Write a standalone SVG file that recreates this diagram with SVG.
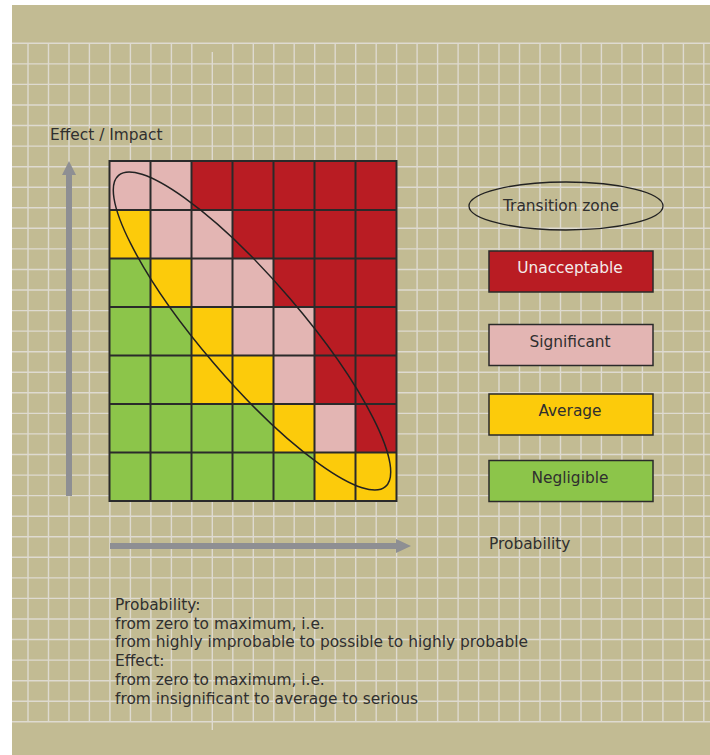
<svg xmlns="http://www.w3.org/2000/svg" width="710" height="755" viewBox="0 0 710 755">
<style>
.t{font-family:"DejaVu Sans","Liberation Sans",sans-serif;font-size:15.4px;fill:#2f2f2f}
.g{stroke:#dedad0;stroke-width:1.4}
.c{stroke:#2a2a2a;stroke-width:2}
.R{fill:#b91c23}.P{fill:#e3b5b3}.Y{fill:#fccb0b}.G{fill:#8cc54a}
.box{stroke:#2a2a2a;stroke-width:1.5}
.ax{fill:#8e8f93}
</style>
<rect width="710" height="755" fill="#ffffff"/>
<rect x="12" y="5" width="698" height="750" fill="#c2bb93"/>
<g id="grid">
<path class="g" d="M12 43.3H710M12 63.9H710M12 84.4H710M12 105H710M12 125.5H710M12 146.1H710M12 166.7H710M12 187.2H710M12 207.8H710M12 228.3H710M12 248.9H710M12 269.5H710M12 290H710M12 310.6H710M12 331.1H710M12 351.7H710M12 372.3H710M12 392.8H710M12 413.4H710M12 433.9H710M12 454.5H710M12 475.1H710M12 495.6H710M12 516.2H710M12 536.7H710M12 557.3H710M12 577.9H710M12 598.4H710M12 619H710M12 639.5H710M12 660.1H710M12 680.7H710M12 701.2H710M12 721.8H710"/>
<path class="g" d="M28 43.3V721.8M48.5 43.3V721.8M69 43.3V721.8M89.4 43.3V721.8M109.9 43.3V721.8M130.4 43.3V721.8M150.9 43.3V721.8M171.4 43.3V721.8M191.8 43.3V721.8M212.3 52V730M232.8 43.3V721.8M253.3 43.3V721.8M273.8 43.3V721.8M294.2 43.3V721.8M314.7 43.3V721.8M335.2 43.3V721.8M355.7 43.3V721.8M376.2 43.3V721.8M396.6 43.3V721.8M417.1 43.3V721.8M437.6 43.3V721.8M458.1 43.3V721.8M478.6 43.3V721.8M499 43.3V721.8M519.5 43.3V721.8M540 43.3V721.8M560.5 43.3V721.8M581 43.3V721.8M601.4 43.3V721.8M621.9 43.3V721.8M642.4 43.3V721.8M662.9 43.3V721.8M683.4 43.3V721.8M703.8 43.3V721.8"/>
</g>
<g id="matrix">
<rect class="P" x="109.5" y="161" width="41" height="49"/><rect class="P" x="150.5" y="161" width="41" height="49"/><rect class="R" x="191.5" y="161" width="41" height="49"/><rect class="R" x="232.5" y="161" width="41" height="49"/><rect class="R" x="273.5" y="161" width="41" height="49"/><rect class="R" x="314.5" y="161" width="41" height="49"/><rect class="R" x="355.5" y="161" width="41" height="49"/>
<rect class="Y" x="109.5" y="210" width="41" height="48.5"/><rect class="P" x="150.5" y="210" width="41" height="48.5"/><rect class="P" x="191.5" y="210" width="41" height="48.5"/><rect class="R" x="232.5" y="210" width="41" height="48.5"/><rect class="R" x="273.5" y="210" width="41" height="48.5"/><rect class="R" x="314.5" y="210" width="41" height="48.5"/><rect class="R" x="355.5" y="210" width="41" height="48.5"/>
<rect class="G" x="109.5" y="258.5" width="41" height="48.5"/><rect class="Y" x="150.5" y="258.5" width="41" height="48.5"/><rect class="P" x="191.5" y="258.5" width="41" height="48.5"/><rect class="P" x="232.5" y="258.5" width="41" height="48.5"/><rect class="R" x="273.5" y="258.5" width="41" height="48.5"/><rect class="R" x="314.5" y="258.5" width="41" height="48.5"/><rect class="R" x="355.5" y="258.5" width="41" height="48.5"/>
<rect class="G" x="109.5" y="307" width="41" height="48.5"/><rect class="G" x="150.5" y="307" width="41" height="48.5"/><rect class="Y" x="191.5" y="307" width="41" height="48.5"/><rect class="P" x="232.5" y="307" width="41" height="48.5"/><rect class="P" x="273.5" y="307" width="41" height="48.5"/><rect class="R" x="314.5" y="307" width="41" height="48.5"/><rect class="R" x="355.5" y="307" width="41" height="48.5"/>
<rect class="G" x="109.5" y="355.5" width="41" height="48.5"/><rect class="G" x="150.5" y="355.5" width="41" height="48.5"/><rect class="Y" x="191.5" y="355.5" width="41" height="48.5"/><rect class="Y" x="232.5" y="355.5" width="41" height="48.5"/><rect class="P" x="273.5" y="355.5" width="41" height="48.5"/><rect class="R" x="314.5" y="355.5" width="41" height="48.5"/><rect class="R" x="355.5" y="355.5" width="41" height="48.5"/>
<rect class="G" x="109.5" y="404" width="41" height="48.5"/><rect class="G" x="150.5" y="404" width="41" height="48.5"/><rect class="G" x="191.5" y="404" width="41" height="48.5"/><rect class="G" x="232.5" y="404" width="41" height="48.5"/><rect class="Y" x="273.5" y="404" width="41" height="48.5"/><rect class="P" x="314.5" y="404" width="41" height="48.5"/><rect class="R" x="355.5" y="404" width="41" height="48.5"/>
<rect class="G" x="109.5" y="452.5" width="41" height="48.5"/><rect class="G" x="150.5" y="452.5" width="41" height="48.5"/><rect class="G" x="191.5" y="452.5" width="41" height="48.5"/><rect class="G" x="232.5" y="452.5" width="41" height="48.5"/><rect class="G" x="273.5" y="452.5" width="41" height="48.5"/><rect class="Y" x="314.5" y="452.5" width="41" height="48.5"/><rect class="Y" x="355.5" y="452.5" width="41" height="48.5"/>
<path class="c" fill="none" d="M109.5 161H396.5V501H109.5ZM150.5 161V501M191.5 161V501M232.5 161V501M273.5 161V501M314.5 161V501M355.5 161V501M109.5 210H396.5M109.5 258.5H396.5M109.5 307H396.5M109.5 355.5H396.5M109.5 404H396.5M109.5 452.5H396.5"/>
</g>
<g id="transition-ellipse">
<ellipse cx="252" cy="331" rx="205" ry="50" transform="rotate(49.4 252 331)" fill="none" stroke="#222" stroke-width="1.5"/>
</g>
<g id="axes">
<rect class="ax" x="66" y="174" width="6" height="322"/>
<polygon class="ax" points="69,161 76,175 62,175"/>
<rect class="ax" x="110" y="543" width="287" height="6"/>
<polygon class="ax" points="411,546 396,539 396,553"/>
</g>
<g id="labels">
<text class="t" x="50" y="140">Effect / Impact</text>
<text class="t" x="489" y="549">Probability</text>
</g>
<g id="legend-transition">
<ellipse cx="566" cy="206" rx="97" ry="24" fill="none" stroke="#222" stroke-width="1.3"/>
<text class="t" x="561" y="211" text-anchor="middle">Transition zone</text>
</g>
<g id="legend-unacceptable">
<rect class="R box" x="489" y="251" width="164" height="41"/>
<text class="t" x="570" y="273" text-anchor="middle" style="fill:#f4ecea">Unacceptable</text>
</g>
<g id="legend-significant">
<rect class="P box" x="489" y="324.5" width="164" height="41"/>
<text class="t" x="570" y="347" text-anchor="middle">Significant</text>
</g>
<g id="legend-average">
<rect class="Y box" x="489" y="394" width="164" height="41"/>
<text class="t" x="570" y="416" text-anchor="middle">Average</text>
</g>
<g id="legend-negligible">
<rect class="G box" x="489" y="460.5" width="164" height="41"/>
<text class="t" x="570" y="483" text-anchor="middle">Negligible</text>
</g>
<g id="notes">
<text class="t" x="115" y="610">Probability:</text>
<text class="t" x="115" y="629">from zero to maximum, i.e.</text>
<text class="t" x="115" y="647">from highly improbable to possible to highly probable</text>
<text class="t" x="115" y="666">Effect:</text>
<text class="t" x="115" y="685">from zero to maximum, i.e.</text>
<text class="t" x="115" y="704">from insignificant to average to serious</text>
</g>
</svg>
